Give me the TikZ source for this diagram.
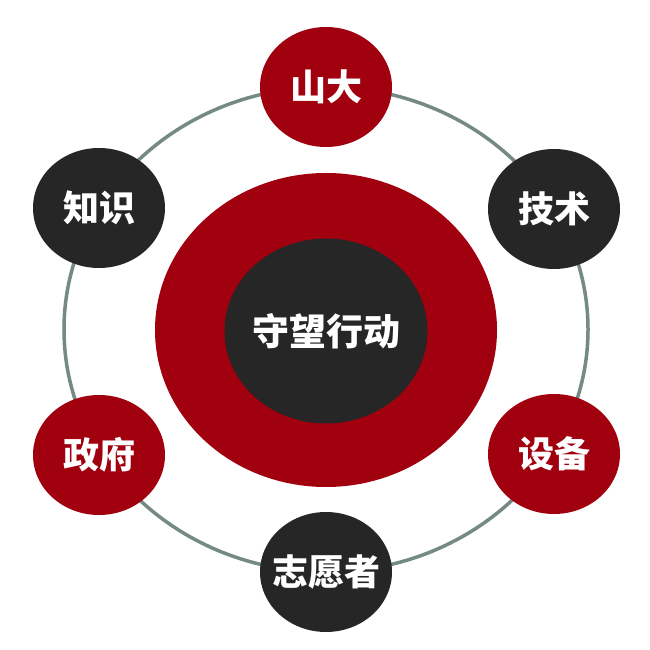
\documentclass[tikz,border=0pt]{standalone}
\usepackage{fontspec}
\newfontfamily\cjk{Noto Sans CJK SC}
\usetikzlibrary{shapes.geometric}
\definecolor{myred}{HTML}{A1000F}
\definecolor{mydark}{HTML}{262626}
\definecolor{ringc}{HTML}{748A82}
\newcommand{\zbox}[1]{\makebox[0pt][c]{#1}}
\tikzset{
  bubble/.style={ellipse, minimum width=132pt, minimum height=120pt, inner sep=0pt,
    text=white, font=\cjk\bfseries\fontsize{36}{36}\selectfont},
  redb/.style={bubble, fill=myred},
  darkb/.style={bubble, fill=mydark},
  ringline/.style={draw=ringc, line width=3.5pt}
}
\begin{document}
\begin{tikzpicture}[x=1pt,y=1pt]
\useasboundingbox (0,0) rectangle (650,650);
\fill[white] (0,0) rectangle (650,650);
\coordinate (rc) at (326,320.5);
\draw[ringline] (rc) ellipse [x radius=262, y radius=242.5];
\node[ellipse, fill=myred, minimum width=342pt, minimum height=314pt, inner sep=0pt] (outer) at (326,320) {};
\node[darkb, minimum width=203pt, minimum height=185pt, font=\cjk\bfseries\fontsize{37}{37}\selectfont] (core) at (326,319) {\zbox{守望行动}};
\node[redb] (shanda) at (326,563) {\zbox{山大}};
\node[darkb] (jishu) at (554,441) {\zbox{技术}};
\node[redb] (shebei) at (554,196) {\zbox{设备}};
\node[darkb] (zhiyuan) at (326,78) {\zbox{志愿者}};
\node[redb] (zhengfu) at (99,195) {\zbox{政府}};
\node[darkb] (zhishi) at (99,442) {\zbox{知识}};
\end{tikzpicture}
\end{document}
